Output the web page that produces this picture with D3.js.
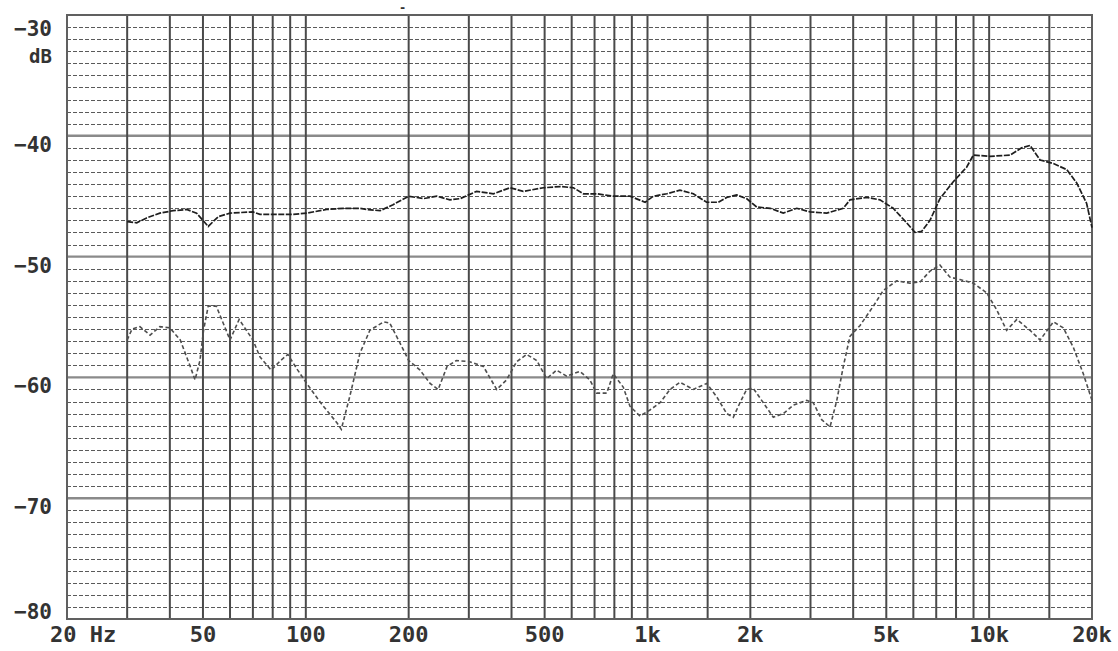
<!DOCTYPE html>
<html><head><meta charset="utf-8">
<script src="https://cdn.jsdelivr.net/npm/d3@7"></script>
<style>body{margin:0;background:#fff;overflow:hidden}</style>
</head><body>
<svg id="chart" width="1118" height="651"></svg>
<script>
// ---- data ----
const xTickValues = [20,50,100,200,500,1000,2000,5000,10000,20000];
const xTickLabels = ["20 Hz","50","100","200","500","1k","2k","5k","10k","20k"];
const xGridValues = [30,40,50,60,70,80,90,100,200,300,400,500,600,700,800,900,1000,1500,2000,3000,4000,5000,6000,7000,8000,9000,10000,15000];
const yTickValues = [-30,-40,-50,-60,-70,-80];
const yTickLabels = ["\u221230","\u221240","\u221250","\u221260","\u221270","\u221280"];
const yUnit = "dB";

const upperFreq = [30,32,34.2,37.4,40.9,44.8,47.9,51.8,55.4,60,70,73.4,82.2,91.9,100.6,115,129,144,151,165,180,200,221,242,264,283,316,354,396,433,496,555,607,649,710,794,889,984,1041,1139,1245,1362,1490,1611,1706,1824,1950,2088,2285,2498,2734,2993,3347,3742,3915,4380,4790,5238,5736,6068,6348,6713,7178,7852,8592,8989,10057,11508,12450,13170,14100,15420,16870,18040,19290,20000];
const upperDb = [-47.1,-47.2,-46.8,-46.4,-46.2,-46.1,-46.4,-47.5,-46.7,-46.4,-46.3,-46.5,-46.5,-46.5,-46.4,-46.1,-46.0,-46.0,-46.1,-46.2,-45.7,-45.0,-45.2,-45.0,-45.3,-45.2,-44.6,-44.8,-44.3,-44.6,-44.3,-44.2,-44.3,-44.8,-44.8,-45.0,-45.0,-45.5,-45.0,-44.8,-44.5,-44.8,-45.5,-45.5,-45.1,-44.9,-45.2,-45.9,-46.0,-46.4,-46.0,-46.3,-46.4,-46.0,-45.3,-45.1,-45.3,-46.0,-47.2,-48.0,-47.9,-47.0,-45.2,-43.8,-42.6,-41.6,-41.7,-41.6,-41.0,-40.8,-42.0,-42.3,-42.8,-43.9,-45.6,-47.6];

const lowerFreq = [30,31,32.7,35,37.4,40,42.9,45.9,47.4,49,50.2,51.8,54.7,60,63.8,70,73.4,79.2,84.4,88.6,94.7,100.6,110.5,123.6,127,134.7,144,154,169,176,189,200,216,231,244,259,276,302,331,362,387,414,443,474,507,542,580,634,678,710,760,794,849,889,951,1017,1088,1164,1245,1362,1490,1594,1706,1783,1865,1950,2040,2183,2335,2498,2672,2925,3058,3235,3422,3582,3742,3915,4190,4582,4900,5363,5869,6277,6713,7178,7676,8213,8989,9835,10520,11250,12050,13170,14100,15420,16480,17630,18860,20000];
const lowerDb = [-56.9,-56.0,-55.8,-56.5,-55.8,-55.9,-56.9,-59.1,-60.2,-58.6,-56.1,-54.1,-54.1,-56.9,-55.2,-56.9,-58.3,-59.4,-58.6,-58.1,-59.4,-60.5,-62.1,-63.8,-64.3,-61.5,-58.0,-56.1,-55.4,-55.5,-57.2,-58.6,-59.4,-60.5,-61.0,-59.1,-58.6,-58.7,-59.1,-61.0,-60.2,-58.7,-58.1,-58.6,-60.1,-59.4,-59.9,-59.5,-60.2,-61.3,-61.3,-59.7,-60.8,-62.4,-63.2,-62.7,-62.1,-61.0,-60.4,-61.0,-60.5,-61.6,-63.0,-63.3,-62.1,-61.0,-60.9,-62.1,-63.3,-63.0,-62.3,-61.9,-62.1,-63.5,-64.1,-61.9,-59.1,-56.6,-55.7,-54.1,-52.8,-52.0,-52.2,-52.1,-51.2,-50.7,-51.7,-51.9,-52.2,-53.0,-54.4,-56.1,-55.2,-56.1,-56.9,-55.4,-55.9,-57.5,-59.7,-61.9];

// ---- layout ----
const W = 1118, H = 651;
const m = {left: 67, right: 26, top: 15, bottom: 32};
const svg = d3.select("#chart");
const x = d3.scaleLog().domain([20, 20000]).range([m.left, W - m.right]);
const y = d3.scaleLinear().domain([-80, -30]).range([H - m.bottom, m.top]);
const FONT = "'DejaVu Sans Mono', 'Liberation Mono', monospace";

// minor dashed horizontal lines (every 1 dB)
const minor = d3.range(-79, -30).filter(v => v % 10 !== 0);
svg.append("g").selectAll("line").data(minor).join("line")
  .attr("x1", x(20)).attr("x2", x(20000))
  .attr("y1", d => Math.round(y(d)) + 0.5).attr("y2", d => Math.round(y(d)) + 0.5)
  .attr("stroke", "#5a5a5a").attr("stroke-width", 1.2)
  .attr("stroke-dasharray", "4,2");

// major horizontal lines
svg.append("g").selectAll("line").data([-40,-50,-60,-70]).join("line")
  .attr("x1", x(20)).attr("x2", x(20000))
  .attr("y1", d => y(d)).attr("y2", d => y(d))
  .attr("stroke", "#8a8a8a").attr("stroke-width", 2.4);

// vertical grid lines
svg.append("g").selectAll("line").data(xGridValues).join("line")
  .attr("x1", d => x(d)).attr("x2", d => x(d))
  .attr("y1", y(-30)).attr("y2", y(-80))
  .attr("stroke", "#4a4a4a").attr("stroke-width", 2);

// frame
svg.append("rect")
  .attr("x", x(20)).attr("y", y(-30))
  .attr("width", x(20000) - x(20)).attr("height", y(-80) - y(-30))
  .attr("fill", "none").attr("stroke", "#606060").attr("stroke-width", 2);

// curves
const line = d3.line().x(d => x(d[0])).y(d => y(d[1]));
svg.append("path")
  .datum(lowerFreq.map((f, i) => [f, lowerDb[i]]))
  .attr("d", line).attr("fill", "none")
  .attr("stroke", "#4e4e4e").attr("stroke-width", 1.6)
  .attr("stroke-dasharray", "4,2.5");
svg.append("path")
  .datum(upperFreq.map((f, i) => [f, upperDb[i]]))
  .attr("d", line).attr("fill", "none")
  .attr("stroke", "#1e1e1e").attr("stroke-width", 1.7)
  .attr("stroke-dasharray", "6,1.5");

// x labels
svg.append("g").selectAll("text").data(xTickValues).join("text")
  .attr("x", d => x(d))
  .attr("y", H - 9)
  .attr("text-anchor", (d, i) => i === 0 ? "start" : "middle")
  .attr("dx", (d, i) => i === 0 ? -17 : 0)
  .attr("font-family", FONT).attr("font-weight", "bold")
  .attr("font-size", 22).attr("fill", "#333")
  .text((d, i) => xTickLabels[i]);

// y labels
const n = yTickValues.length;
svg.append("g").selectAll("text").data(yTickValues).join("text")
  .attr("x", 52)
  .attr("y", d => y(d))
  .attr("dy", (d, i) => i === 0 ? 21 : (i === n - 1 ? 0 : 16))
  .attr("text-anchor", "end")
  .attr("font-family", FONT).attr("font-weight", "bold")
  .attr("font-size", 21).attr("fill", "#333")
  .text((d, i) => yTickLabels[i]);

svg.append("text")
  .attr("x", 52).attr("y", y(-30)).attr("dy", 48)
  .attr("text-anchor", "end")
  .attr("font-family", FONT).attr("font-weight", "bold")
  .attr("font-size", 19).attr("fill", "#333")
  .text(yUnit);

svg.append("text")
  .attr("x", x(200) - 6).attr("y", y(-30) - 3)
  .attr("text-anchor", "middle")
  .attr("font-family", FONT).attr("font-weight", "bold")
  .attr("font-size", 12).attr("fill", "#333")
  .text("-");
</script>
</body></html>
